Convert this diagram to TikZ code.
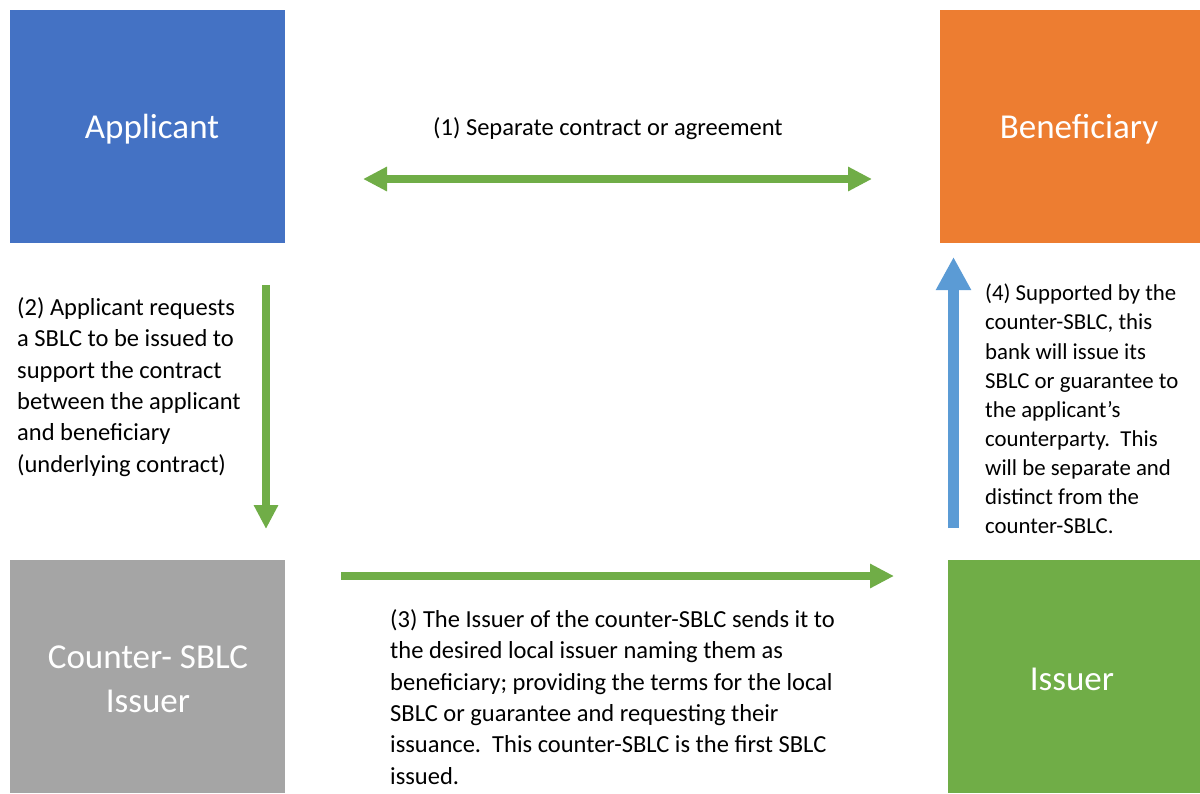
\documentclass[tikz,border=0pt]{standalone}
\usepackage{fontspec}
\setmainfont{Carlito}
\usepackage{tikz}
\usetikzlibrary{arrows.meta}
\usetikzlibrary{positioning}

\definecolor{appblue}{HTML}{4472C4}
\definecolor{benorange}{HTML}{ED7D31}
\definecolor{csgray}{HTML}{A5A5A5}
\definecolor{issgreen}{HTML}{70AD47}
\definecolor{arrblue}{HTML}{5B9BD5}

\tikzset{
  party/.style={draw=none, text=white, align=center, inner sep=0pt,
    font=\fontsize{35}{44}\selectfont},
  note/.style={anchor=west, align=left, inner sep=0pt,
    font=\fontsize{24.5}{31.4}\selectfont},
  flow/.style={draw=issgreen, line width=7.5pt,
    -{Triangle[length=24pt,width=23pt]}},
  flowback/.style={draw=arrblue, line width=11pt,
    -{Triangle[length=33pt,width=33pt]}}
}

\begin{document}
\begin{tikzpicture}[x=1pt, y=-1pt]
    \useasboundingbox (0,0) rectangle (1200,793);
    % boxes
    \fill[appblue] (10,10) rectangle (285,243);
    \node[party] (app) at (152,129) {Applicant};
    \fill[benorange] (940,10) rectangle (1200,243);
    \node[party] (ben) at (1079,129) {Beneficiary};
    \fill[csgray] (10,560) rectangle (285,793);
    \node[party] (csi) at (148,679) {Counter- SBLC\\Issuer};
    \fill[issgreen] (948,560) rectangle (1200,793);
    \node[party] (iss) at (1072,679) {Issuer};

    % arrow ends
    \coordinate (a1) at (363,179);
    \coordinate (b1) at (872,179);
    \coordinate (a2) at (266,285);
    \coordinate (b2) at (266,529);
    \coordinate (a3) at (341,576);
    \coordinate (b3) at (894,576);
    \coordinate (a4) at (953.5,528);
    \coordinate (b4) at (953.5,257);

    \draw[flow, {Triangle[length=24pt,width=23pt]}-{Triangle[length=24pt,width=23pt]}] (a1) -- (b1);
    \draw[flow] (a2) -- (b2);
    \draw[flow] (a3) -- (b3);
    \draw[flowback] (a4) -- (b4);

    % labels
    \node[note] (t1) at (433,129) {(1) Separate contract or agreement};
    \node[note] (t2) at (17,387) {(2) Applicant requests\\a SBLC to be issued to\\support the contract\\between the applicant\\and beneficiary\\(underlying contract)};
    \node[note] (t3) at (390,697) {(3) The Issuer of the counter-SBLC sends it to\\the desired local issuer naming them as\\beneficiary; providing the terms for the local\\SBLC or guarantee and requesting their\\issuance.\ \ This counter-SBLC is the first SBLC\\issued.};
    \node[note, font=\fontsize{22.8}{29.1}\selectfont] (t4) at (985,409) {(4) Supported by the\\counter-SBLC, this\\bank will issue its\\SBLC or guarantee to\\the applicant’s\\counterparty.\ \ This\\will be separate and\\distinct from the\\counter-SBLC.};
\end{tikzpicture}
\end{document}
